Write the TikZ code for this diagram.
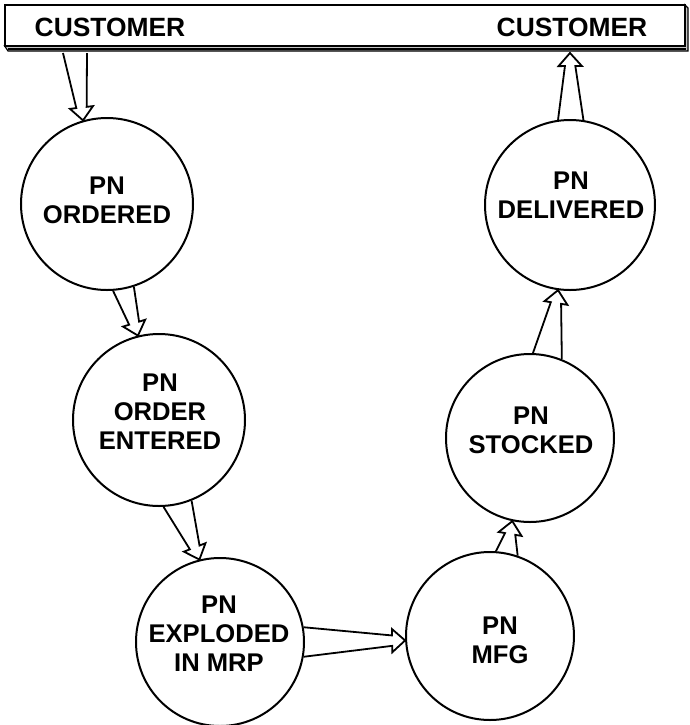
\documentclass[tikz,border=0pt]{standalone}
\usepackage{fontspec}
\setmainfont{Liberation Sans}
\usetikzlibrary{calc}

\tikzset{
  bubble/.style={circle, draw, line width=1pt, minimum size=#1, inner sep=0pt},
  caption/.style={font=\bfseries\fontsize{12.8}{14.5}\selectfont, align=center, inner sep=0pt},
  banner/.style={font=\bfseries\fontsize{13.2}{15}\selectfont, inner sep=0pt},
  flowline/.style={line width=0.9pt, line join=miter},
}

% Open, tapering arrow: #1 and #2 are the two foot points, #3 the tip.
\newcommand{\taperarrow}[3]{%
  \draw[flowline] let \p1=(#1), \p2=(#2), \p3=(#3),
    \n1={veclen(\x3-0.5*\x1-0.5*\x2, \y3-0.5*\y1-0.5*\y2)},
    \n2={(\x3-0.5*\x1-0.5*\x2)/\n1},
    \n3={(\y3-0.5*\y1-0.5*\y2)/\n1},
    \n4={((\x1-\x2)*(-\n3)+(\y1-\y2)*(\n2))/abs((\x1-\x2)*(-\n3)+(\y1-\y2)*(\n2))}
  in (\p1)
    -- ({\x3-6.5*(\n2)-\n4*2.6*(\n3)}, {\y3-6.5*(\n3)+\n4*2.6*(\n2)})
    -- ({\x3-6.5*(\n2)-\n4*5.8*(\n3)}, {\y3-6.5*(\n3)+\n4*5.8*(\n2)})
    -- (\p3)
    -- ({\x3-6.5*(\n2)+\n4*5.8*(\n3)}, {\y3-6.5*(\n3)-\n4*5.8*(\n2)})
    -- ({\x3-6.5*(\n2)+\n4*2.6*(\n3)}, {\y3-6.5*(\n3)-\n4*2.6*(\n2)})
    -- (\p2);
}

\begin{document}
\begin{tikzpicture}[x=0.5pt, y=-0.5pt]
  \useasboundingbox (0,0) rectangle (690,725);

  % customer slab along the top
  \fill[gray!45] (4,45) -- (8,51) -- (688,51) -- (688,8) -- (684,4) -- (684,45) -- cycle;
  \draw[line width=0.6pt] (4,45) -- (8,51) -- (688,51) -- (688,8) -- (684,4);
  \draw[line width=1pt] (8,48.5) -- (686,48.5);
  \node[draw, line width=1pt, fill=white, anchor=north west, minimum width=340pt,
        minimum height=20.5pt, inner sep=0pt] (bar) at (4,4) {};
  \node[banner] (custL) at (110,27) {CUSTOMER};
  \node[banner] (custR) at (572,27) {CUSTOMER};

  % the six part-number states
  \node[bubble=86pt] (c1) at (107,204) {};
  \node[bubble=86pt] (c2) at (159,420) {};
  \node[bubble=84pt] (c3) at (220,642) {};
  \node[bubble=84pt] (c4) at (490,636) {};
  \node[bubble=84pt] (c5) at (530,438) {};
  \node[bubble=85pt] (c6) at (570,205) {};

  \node[caption] (t1) at (107,200) {PN\\ORDERED};
  \node[caption] (t2) at (160,412) {PN\\ORDER\\ENTERED};
  \node[caption] (t3) at (219,634) {PN\\EXPLODED\\IN MRP};
  \node[caption] (t4) at (500,640) {PN\\MFG};
  \node[caption] (t5) at (531,430) {PN\\STOCKED};
  \node[caption] (t6) at (571,195) {PN\\DELIVERED};

  % where the flow leaves and re-enters the slab
  \coordinate (outL) at ($(bar.south west)+(59,6)$);
  \coordinate (outR) at ($(bar.south west)+(83,6)$);
  \coordinate (back) at ($(bar.south west)+(566,6)$);

  % flow arrows
  \taperarrow{outL}{outR}{c1.106.5}
  \taperarrow{c1.-86.6}{c1.-72.4}{c2.104.7}
  \taperarrow{c2.-87.2}{c2.-68.8}{c3.104.7}
  \taperarrow{c3.10.2}{c3.-10.2}{c4.183.4}
  \taperarrow{c4.86.5}{c4.71.6}{c5.-102.7}
  \taperarrow{c5.88.7}{c5.68.3}{c6.-98.2}
  \taperarrow{c6.98.9}{c6.81.1}{back}
\end{tikzpicture}
\end{document}
